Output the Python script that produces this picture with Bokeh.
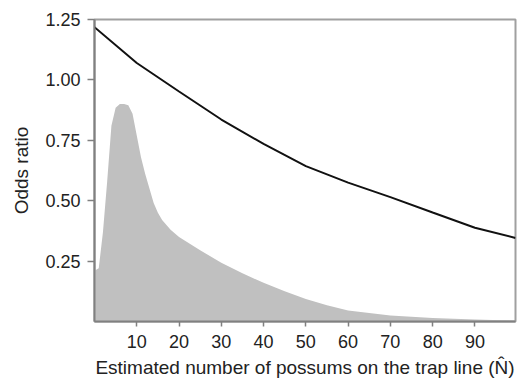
from bokeh.plotting import figure
from bokeh.models import Range1d, FixedTicker
from bokeh.embed import file_html
from bokeh.resources import INLINE

# Odds ratio curve
or_x = [0, 10, 20, 30, 40, 50, 60, 70, 80, 90, 99.6]
or_y = [1.218, 1.07, 0.952, 0.836, 0.735, 0.643, 0.575, 0.515, 0.451, 0.388, 0.346]

# Distribution of estimated N (grey area)
dist_x = [0, 1, 2, 3, 4, 5, 6, 7, 8, 9, 10, 11, 12, 13, 14, 15, 16, 18, 20,
          25, 30, 35, 40, 45, 50, 55, 60, 70, 80, 90, 99.6]
dist_y = [0.21, 0.22, 0.37, 0.58, 0.81, 0.885, 0.90, 0.90, 0.895, 0.86, 0.77, 0.68,
          0.61, 0.55, 0.49, 0.45, 0.42, 0.38, 0.35, 0.295, 0.243, 0.20, 0.16,
          0.125, 0.093, 0.067, 0.046, 0.025, 0.014, 0.008, 0.003]

x_ticks = [10, 20, 30, 40, 50, 60, 70, 80, 90]
y_ticks = [0.25, 0.5, 0.75, 1.0, 1.25]
y_tick_labels = {0.25: "0.25", 0.5: "0.50", 0.75: "0.75", 1.0: "1.00", 1.25: "1.25"}

p = figure(width=517, height=385, output_backend="svg", toolbar_location=None,
           x_range=Range1d(0, 99.6), y_range=Range1d(0, 1.25),
           min_border_left=94, min_border_right=2, min_border_top=19, min_border_bottom=64)

p.varea(x=dist_x, y1=[0] * len(dist_x), y2=dist_y, fill_color="#c0c0c0", fill_alpha=1)
p.line(or_x, or_y, line_color="#111111", line_width=2)

p.xgrid.visible = False
p.ygrid.visible = False
p.outline_line_color = "#a0a0a0"
p.outline_line_width = 2

font = "Liberation Sans"
p.xaxis.ticker = FixedTicker(ticks=x_ticks)
p.yaxis.ticker = FixedTicker(ticks=y_ticks)
p.yaxis.major_label_overrides = y_tick_labels
p.xaxis.axis_label = "Estimated number of possums on the trap line (N\u0302)"
p.yaxis.axis_label = "Odds ratio"

for ax in (p.xaxis, p.yaxis):
    ax.axis_line_color = "#808080"
    ax.axis_line_width = 2
    ax.major_tick_line_color = "#808080"
    ax.major_tick_line_width = 1.5
    ax.minor_tick_line_color = None
    ax.major_tick_in = 0
    ax.major_label_text_font = font
    ax.major_label_text_font_size = "18px"
    ax.major_label_text_color = "#222222"
    ax.axis_label_text_font = font
    ax.axis_label_text_font_size = "19px"
    ax.axis_label_text_font_style = "normal"
    ax.axis_label_text_color = "#222222"

p.xaxis.major_tick_out = 5
p.xaxis.major_label_standoff = 8
p.xaxis.axis_label_standoff = 6
p.yaxis.major_tick_out = 7
p.yaxis.major_label_standoff = 7
p.yaxis.axis_label_standoff = 10

open("out.html", "w").write(file_html(p, INLINE))
